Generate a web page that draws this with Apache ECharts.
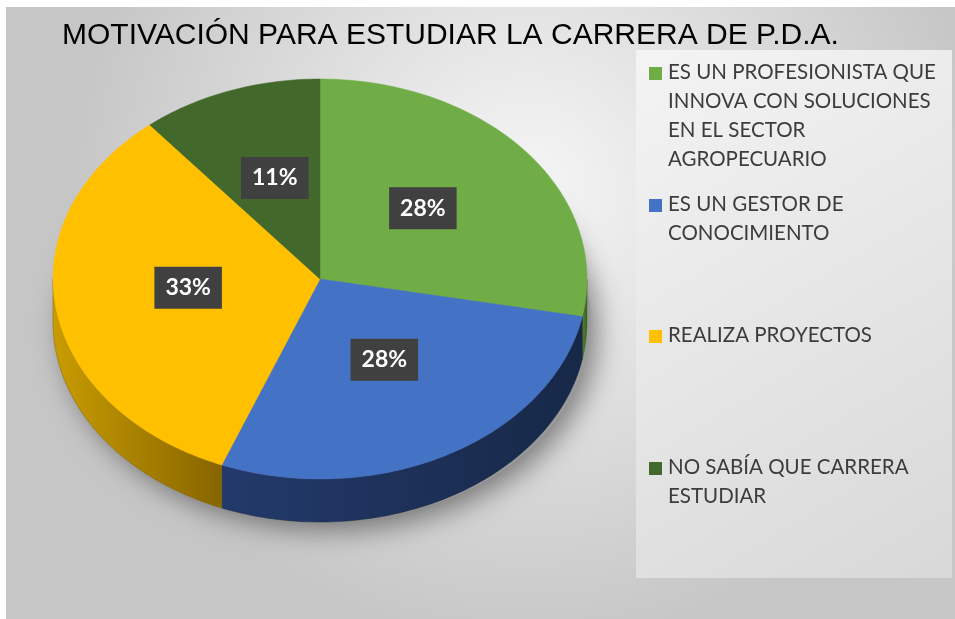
<!DOCTYPE html>
<html>
<head>
<meta charset="utf-8">
<script src="https://cdn.jsdelivr.net/npm/echarts@6/dist/echarts.min.js"></script>
<style>html,body{margin:0;padding:0;background:#fff;}#c{width:955px;height:619px;}</style>
</head>
<body>
<div id="c"></div>
<script>
const titleText = 'MOTIVACIÓN PARA ESTUDIAR LA CARRERA DE P.D.A.';
const categories = [
  'ES UN PROFESIONISTA QUE\nINNOVA CON SOLUCIONES\nEN EL SECTOR\nAGROPECUARIO',
  'ES UN GESTOR DE\nCONOCIMIENTO',
  'REALIZA PROYECTOS',
  'NO SABÍA QUE CARRERA\nESTUDIAR'
];
const values = [28, 28, 33, 11];
const colors = ['#70AD47', '#4472C4', '#FFC000', '#43682B'];
const sideColors = [['#4f7d31', '#3d6326'], ['#233a6b', '#172847'], ['#c99c00', '#876500'], ['#2f4a1e', '#2f4a1e']];

const chart = echarts.init(document.getElementById('c'));
const total = values.reduce((a, b) => a + b, 0);
const G = { cx: 320, cy: 279, rx: 267, ry: 200, depth: 43 };

function pt(theta, dy) {
  return [G.cx + G.rx * Math.sin(theta), G.cy - G.ry * Math.cos(theta) + (dy || 0)];
}
function arcPts(a, b, dy) {
  const n = Math.max(2, Math.ceil((b - a) / 0.02));
  const out = [];
  for (let k = 0; k <= n; k++) out.push(pt(a + (b - a) * k / n, dy));
  return out;
}

function renderItem(params, api) {
  const i = params.dataIndex;
  let before = 0;
  for (let k = 0; k < i; k++) before += values[k];
  const v = api.value(0);
  const a = before / total * Math.PI * 2;
  const b = (before + v) / total * Math.PI * 2;
  const children = [];
  if (i === 0) {
    children.push({
      type: 'ellipse', z2: 0,
      shape: { cx: G.cx + 4, cy: G.cy + G.depth, rx: G.rx, ry: G.ry },
      style: { fill: '#9a9a9a', shadowBlur: 28, shadowColor: 'rgba(0,0,0,0.45)', shadowOffsetX: 6, shadowOffsetY: 8 }
    });
  }
  const sa = Math.max(a, Math.PI / 2), sb = Math.min(b, Math.PI * 1.5);
  if (sb > sa) {
    const top = arcPts(sa, sb, 0);
    const bot = arcPts(sa, sb, G.depth).reverse();
    children.push({
      type: 'polygon', z2: 2,
      shape: { points: top.concat(bot) },
      style: {
        fill: new echarts.graphic.LinearGradient(0, 0, 1, 0, [
          { offset: 0, color: sideColors[i][0] }, { offset: 1, color: sideColors[i][1] }
        ]),
        stroke: sideColors[i][1], lineWidth: 0.5
      }
    });
  }
  children.push({
    type: 'polygon', z2: 3,
    shape: { points: [[G.cx, G.cy]].concat(arcPts(a, b, 0)) },
    style: { fill: colors[i], stroke: colors[i], lineWidth: 0.5 }
  });
  const m = (a + b) / 2;
  const lp = [G.cx + G.rx * 0.5 * Math.sin(m), G.cy - G.ry * 0.5 * Math.cos(m) - 7];
  children.push({
    type: 'text', z2: 10,
    style: {
      text: Math.round(v / total * 100) + '%',
      x: lp[0], y: lp[1], align: 'center', verticalAlign: 'middle',
      fill: '#fff', font: 'bold 23px Lato, "Open Sans", sans-serif',
      backgroundColor: '#404040', padding: [10, 11, 9, 11],
      boxShadowBlur: 5, boxShadowColor: 'rgba(0,0,0,0.55)', boxShadowOffsetX: 3, boxShadowOffsetY: 3
    }
  });
  return { type: 'group', children };
}

const legendTops = [73, 205, 336, 468];
const legendGraphics = [];
categories.forEach((name, i) => {
  legendGraphics.push({
    type: 'rect', left: 649, top: legendTops[i] - 6,
    shape: { width: 13, height: 13 }, style: { fill: colors[i] }
  });
  legendGraphics.push({
    type: 'text', left: 668, top: legendTops[i] - 15,
    style: { text: name, fill: '#3c3c3c', font: '20.5px Lato, sans-serif', lineHeight: 29 }
  });
});

chart.setOption({
  backgroundColor: '#fff',
  animation: false,
  title: {
    text: titleText, left: 57, top: 16,
    textStyle: { fontFamily: '"Liberation Sans", Arial, sans-serif', fontSize: 30, fontWeight: 'normal', color: '#000' }
  },
  graphic: [
    {
      type: 'rect', left: 6, top: 7, z: -10,
      shape: { width: 949, height: 612 },
      style: {
        fill: new echarts.graphic.RadialGradient(0.55, 0.3, 0.75, [
          { offset: 0, color: '#f6f6f6' }, { offset: 1, color: '#c6c6c6' }
        ])
      }
    },
    {
      type: 'rect', left: 636, top: 50, z: -9,
      shape: { width: 316, height: 528 },
      style: {
        fill: new echarts.graphic.LinearGradient(0, 0, 1, 1, [
          { offset: 0, color: '#f4f4f4' }, { offset: 1, color: '#d8d8d8' }
        ])
      }
    }
  ].concat(legendGraphics),
  series: [{
    type: 'custom',
    coordinateSystem: 'none',
    renderItem: renderItem,
    data: values.map((v, i) => ({ name: categories[i], value: [v] }))
  }]
});
</script>
</body>
</html>
